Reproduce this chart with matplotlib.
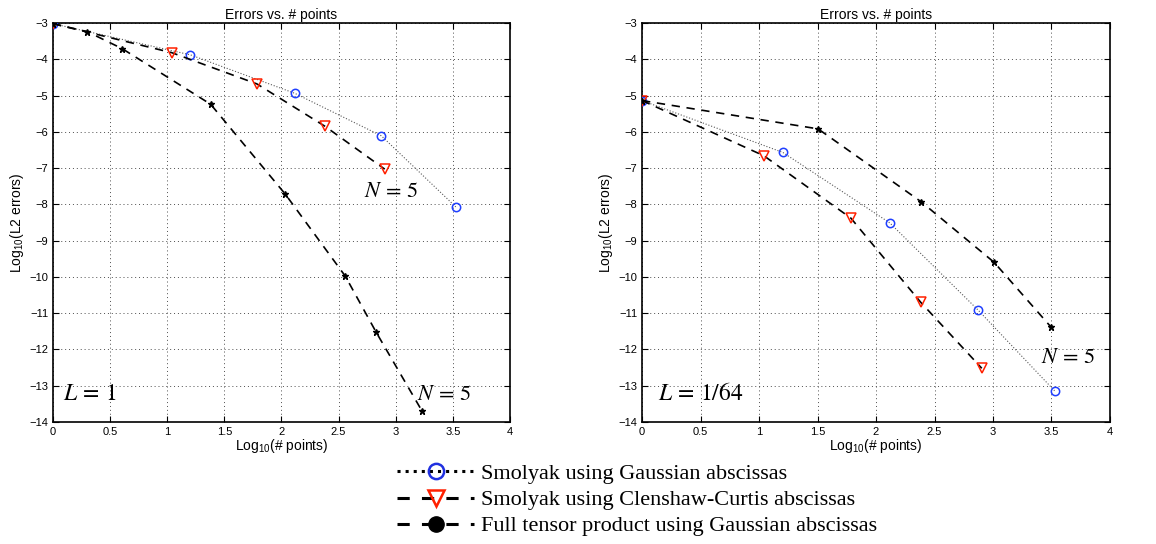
import matplotlib.pyplot as plt
from matplotlib.lines import Line2D

plt.rcParams['font.family'] = ['Liberation Sans', 'DejaVu Sans']
plt.rcParams['mathtext.fontset'] = 'custom'
plt.rcParams['mathtext.rm'] = 'Liberation Sans'

# L = 1 panel
gauss_x1 = [0, 1.204, 2.117, 2.874, 3.526]
gauss_y1 = [-3.02, -3.88, -4.94, -6.11, -8.07]
cc_x1 = [0, 1.041, 1.785, 2.382, 2.904]
cc_y1 = [-3.02, -3.82, -4.68, -5.85, -7.03]
full_x1 = [0, 0.301, 0.607, 1.380, 2.034, 2.559, 2.830, 3.233]
full_y1 = [-3.02, -3.24, -3.71, -5.24, -7.72, -9.98, -11.53, -13.71]

# L = 1/64 panel
gauss_x2 = [0, 1.204, 2.117, 2.874, 3.526]
gauss_y2 = [-5.14, -6.57, -8.51, -10.92, -13.14]
cc_x2 = [0, 1.041, 1.785, 2.382, 2.904]
cc_y2 = [-5.14, -6.66, -8.38, -10.70, -12.52]
full_x2 = [0, 1.505, 2.386, 3.010, 3.495]
full_y2 = [-5.14, -5.92, -7.93, -9.60, -11.38]

legend_labels = ["Smolyak using Gaussian abscissas",
                 "Smolyak using Clenshaw-Curtis abscissas",
                 "Full tensor product using Gaussian abscissas"]

fig = plt.figure(figsize=(11.56, 5.44), dpi=100)
ax1 = fig.add_axes([0.0458, 0.2243, 0.3953, 0.7335])
ax2 = fig.add_axes([0.5554, 0.2243, 0.4048, 0.7335])


def draw(ax, gx, gy, cx, cy, fx, fy, ltxt, ltxy, ntxy):
    ax.plot(gx, gy, ':', color='0.35', lw=0.8, marker='o', ms=6,
            mfc='none', mec='#1f3fff', mew=1.1, zorder=3)
    ax.plot(cx, cy, '--', color='black', lw=1.2, dashes=(5, 4), marker='v',
            ms=7, mfc='none', mec='#ff2000', mew=1.1, zorder=3)
    ax.plot(fx, fy, '--', color='black', lw=1.2, dashes=(5, 4), marker='*',
            ms=5, mfc='black', mec='black', zorder=4)
    ax.set_xlim(0, 4)
    ax.set_ylim(-14, -3)
    ax.set_xticks([0, 0.5, 1, 1.5, 2, 2.5, 3, 3.5, 4])
    ax.set_xticklabels(['0', '0.5', '1', '1.5', '2', '2.5', '3', '3.5', '4'])
    ax.set_yticks(range(-14, -2))
    ax.set_yticklabels(['\u2212%d' % abs(v) for v in range(-14, -2)])
    ax.tick_params(direction='in', top=True, right=True, labelsize=8, length=4, width=0.8)
    ax.grid(True, linestyle=(0, (1, 3)), color='0.3', lw=0.7)
    for s in ax.spines.values():
        s.set_linewidth(1.2)
    ax.set_title("Errors vs. # points", fontsize=10, pad=3)
    ax.set_xlabel(r"Log$_{10}$(# points)", fontsize=10, labelpad=0)
    ax.set_ylabel(r"Log$_{10}$(L2 errors)", fontsize=10, labelpad=2)
    ax.text(ltxy[0], ltxy[1], ltxt, fontsize=17, va='center', ha='left',
            math_fontfamily='stix')
    for (nx, ny) in ntxy:
        ax.text(nx, ny, r'$N\,=\,5$', fontsize=16, va='center', ha='left',
                math_fontfamily='stix')


draw(ax1, gauss_x1, gauss_y1, cc_x1, cc_y1, full_x1, full_y1,
     r'$L\,=\,1$', (0.09, -13.22), [(2.72, -7.65), (3.19, -13.25)])
draw(ax2, gauss_x2, gauss_y2, cc_x2, cc_y2, full_x2, full_y2,
     r'$L\,=\,1/64$', (0.14, -13.23), [(3.41, -12.22)])

handles = [
    Line2D([], [], ls=':', color='black', lw=2.2, marker='o', ms=11,
           mfc='none', mec='#2030e0', mew=1.8),
    Line2D([], [], ls='--', color='black', lw=2.2, dashes=(4, 4), marker='v', ms=12,
           mfc='none', mec='#ff2000', mew=1.8),
    Line2D([], [], ls='--', color='black', lw=2.2, dashes=(4, 4), marker='o', ms=11,
           mfc='black', mec='black'),
]
fig.legend(handles, legend_labels, loc='upper left', bbox_to_anchor=(0.334, 0.168),
           frameon=False, handlelength=3.45, handletextpad=0.3, labelspacing=0.25,
           borderpad=0, prop={'family': 'Liberation Serif', 'size': 16})

fig.savefig("out.png", dpi=100)
